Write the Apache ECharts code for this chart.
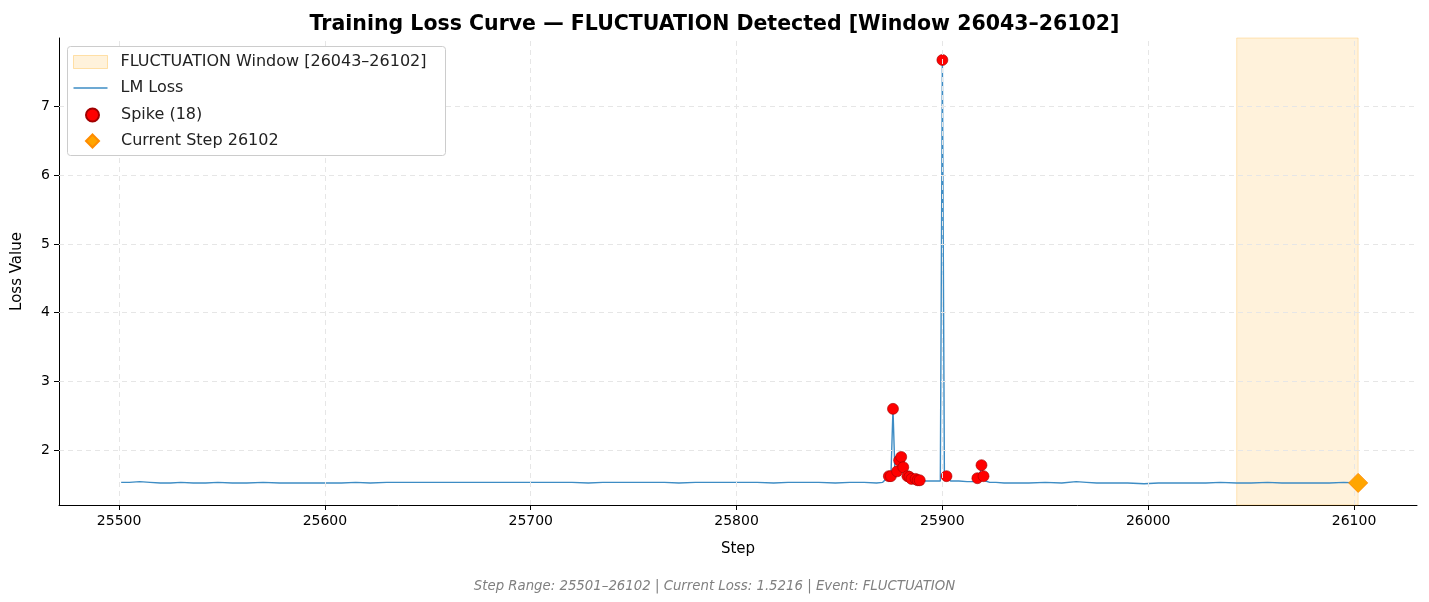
<!DOCTYPE html>
<html>
<head>
<meta charset="utf-8">
<script src="https://cdn.jsdelivr.net/npm/echarts@6/dist/echarts.min.js"></script>
<style>html,body{margin:0;padding:0;background:#fff}#chart{width:1429px;height:602px}</style>
</head>
<body>
<div id="chart"></div>
<script>
// baseline loss (coarse samples + every step around the spikes)
var lossSteps = [25501,25505,25510,25515,25520,25525,25530,25536,25542,25548,25555,25562,25570,25578,25585,25592,25600,25608,25615,25622,25630,25638,25645,25652,25660,25668,25675,25682,25690,25698,25705,25712,25720,25728,25735,25742,25750,25758,25765,25772,25780,25788,25795,25802,25810,25818,25825,25832,25840,25848,25855,25862,25868,25871,25872,25873,
  25874,25875,25876,25877,25878,25879,25880,25881,25882,25883,25884,25885,25886,25887,25888,25889,25890,25892,25895,25898,25899,25900,25901,25902,25904,25908,25912,25915,25916,25917,25918,25919,25920,25921,25923,25926,25930,25936,25942,25950,25958,25965,25970,25975,25982,25990,25998,26005,26012,26020,26028,26035,26043,26050,26058,26065,26072,26080,26088,26095,26102];
var lossValues = [1.53,1.53,1.54,1.53,1.52,1.52,1.53,1.52,1.52,1.53,1.52,1.52,1.53,1.52,1.52,1.52,1.52,1.52,1.53,1.52,1.53,1.53,1.53,1.53,1.53,1.53,1.53,1.53,1.53,1.53,1.53,1.53,1.53,1.52,1.53,1.53,1.53,1.53,1.53,1.52,1.53,1.53,1.53,1.53,1.53,1.52,1.53,1.53,1.53,1.52,1.53,1.53,1.52,1.53,1.56,1.58,
  1.62,1.62,2.60,1.62,1.69,1.85,1.90,1.75,1.66,1.62,1.61,1.58,1.58,1.58,1.56,1.56,1.55,1.55,1.55,1.55,1.55,7.68,1.55,1.62,1.55,1.55,1.54,1.54,1.55,1.59,1.60,1.78,1.62,1.55,1.53,1.53,1.52,1.52,1.52,1.53,1.52,1.54,1.53,1.52,1.52,1.52,1.51,1.52,1.52,1.52,1.52,1.53,1.52,1.52,1.53,1.52,1.52,1.52,1.52,1.53,1.52];
var spikeSteps = [25874,25875,25876,25878,25879,25880,25881,25883,25884,25885,25887,25888,25889,25900,25902,25917,25919,25920];
var spikeValues = [1.62,1.62,2.60,1.69,1.85,1.90,1.75,1.62,1.61,1.58,1.58,1.56,1.56,7.68,1.62,1.59,1.78,1.62];
var windowRange = [26043, 26102];
var currentStep = 26102, currentLoss = 1.5216;
var xTicks = [25500,25600,25700,25800,25900,26000,26100];
var yTicks = [2,3,4,5,6,7];

var font = 'DejaVu Sans';
var gridStyle = {color: '#e6e6e6', type: [5, 4], width: 1};

var chart = echarts.init(document.getElementById('chart'));
chart.setOption({
  animation: false,
  textStyle: {fontFamily: font},
  title: [{
    text: 'Training Loss Curve — FLUCTUATION Detected [Window 26043–26102]',
    left: 'center', top: 9,
    textStyle: {fontSize: 20.5, fontWeight: 'bold', color: '#000', fontFamily: font}
  }, {
    text: 'Step Range: 25501–26102 | Current Loss: 1.5216 | Event: FLUCTUATION',
    left: 'center', top: 575,
    textStyle: {fontSize: 13.3, fontStyle: 'italic', fontWeight: 'normal', color: '#808080', fontFamily: font}
  }],
  graphic: [{
    type: 'rect', left: 67, top: 46, z: 10,
    shape: {width: 378, height: 109, r: 3},
    style: {fill: '#fff', stroke: '#ccc', lineWidth: 1}
  }],
  grid: {left: 59, right: 12, top: 38, bottom: 97},
  legend: [{
    orient: 'vertical', left: 67, top: 54, padding: [0, 0, 0, 6], z: 20,
    itemWidth: 34, itemHeight: 13, itemGap: 10,
    textStyle: {fontSize: 16, color: '#222', fontFamily: font, padding: [0, 0, 0, 8]},
    data: [
      {name: 'FLUCTUATION Window [26043–26102]', icon: 'rect', itemStyle: {color: 'rgba(255,165,0,0.14)', borderColor: 'rgba(255,165,0,0.3)', borderWidth: 1}},
      {name: 'LM Loss', icon: 'path://M0,6L34,6L34,7.3L0,7.3Z'}
    ]
  }, {
    orient: 'vertical', left: 85, top: 107, padding: 0, itemGap: 10, z: 20,
    itemWidth: 13, itemHeight: 13,
    textStyle: {fontSize: 16, color: '#222', fontFamily: font, padding: [0, 0, 0, 17]},
    data: [
      {name: 'Spike (18)', icon: 'circle'},
      {name: 'Current Step 26102', icon: 'diamond'}
    ]
  }],
  xAxis: {
    type: 'value', min: 25470.8, max: 26130.6, name: 'Step', nameLocation: 'middle', nameGap: 37,
    nameTextStyle: {fontSize: 15, color: '#000'},
    axisLine: {onZero: false, lineStyle: {color: '#000'}},
    axisTick: {customValues: xTicks, length: 5, lineStyle: {color: '#000'}},
    axisLabel: {customValues: xTicks, fontSize: 14, color: '#000', margin: 9, formatter: function (v) { return String(v); }},
    splitLine: {show: false}
  },
  yAxis: {
    type: 'value', min: 1.2, max: 8.0, name: 'Loss Value', nameLocation: 'middle', nameGap: 34,
    nameTextStyle: {fontSize: 15, color: '#000'},
    axisLine: {show: true, lineStyle: {color: '#000'}},
    axisTick: {show: true, customValues: yTicks, length: 5, lineStyle: {color: '#000'}},
    axisLabel: {customValues: yTicks, fontSize: 14, color: '#000', margin: 9},
    splitLine: {show: false}
  },
  series: [{
    name: 'FLUCTUATION Window [26043–26102]', type: 'line', data: [], silent: true,
    markArea: {silent: true, itemStyle: {color: 'rgba(255,165,0,0.14)', borderColor: 'rgba(255,165,0,0.25)', borderWidth: 1},
      data: [[{xAxis: windowRange[0]}, {xAxis: windowRange[1]}]]},
    markLine: {silent: true, symbol: 'none', label: {show: false}, lineStyle: gridStyle,
      data: xTicks.map(function (v) { return {xAxis: v}; }).concat(yTicks.map(function (v) { return {yAxis: v}; }))}
  }, {
    name: 'LM Loss', type: 'line', showSymbol: false, symbol: 'none',
    lineStyle: {color: '#3d8cc4', width: 1.4}, itemStyle: {color: '#3d8cc4'},
    data: lossSteps.map(function (s, i) { return [s, lossValues[i]]; }), z: 3
  }, {
    name: 'Spike (18)', type: 'scatter', symbolSize: 11,
    itemStyle: {color: '#ff0000', borderColor: '#a00000', borderWidth: 0.6, opacity: 1},
    data: spikeSteps.map(function (s, i) { return [s, spikeValues[i]]; }), z: 4
  }, {
    name: 'Current Step 26102', type: 'scatter', symbol: 'diamond', symbolSize: 19,
    itemStyle: {color: '#ffa500', borderColor: '#ff8c00', borderWidth: 1, opacity: 1},
    data: [[currentStep, currentLoss]], z: 5
  }]
});
</script>
</body>
</html>
